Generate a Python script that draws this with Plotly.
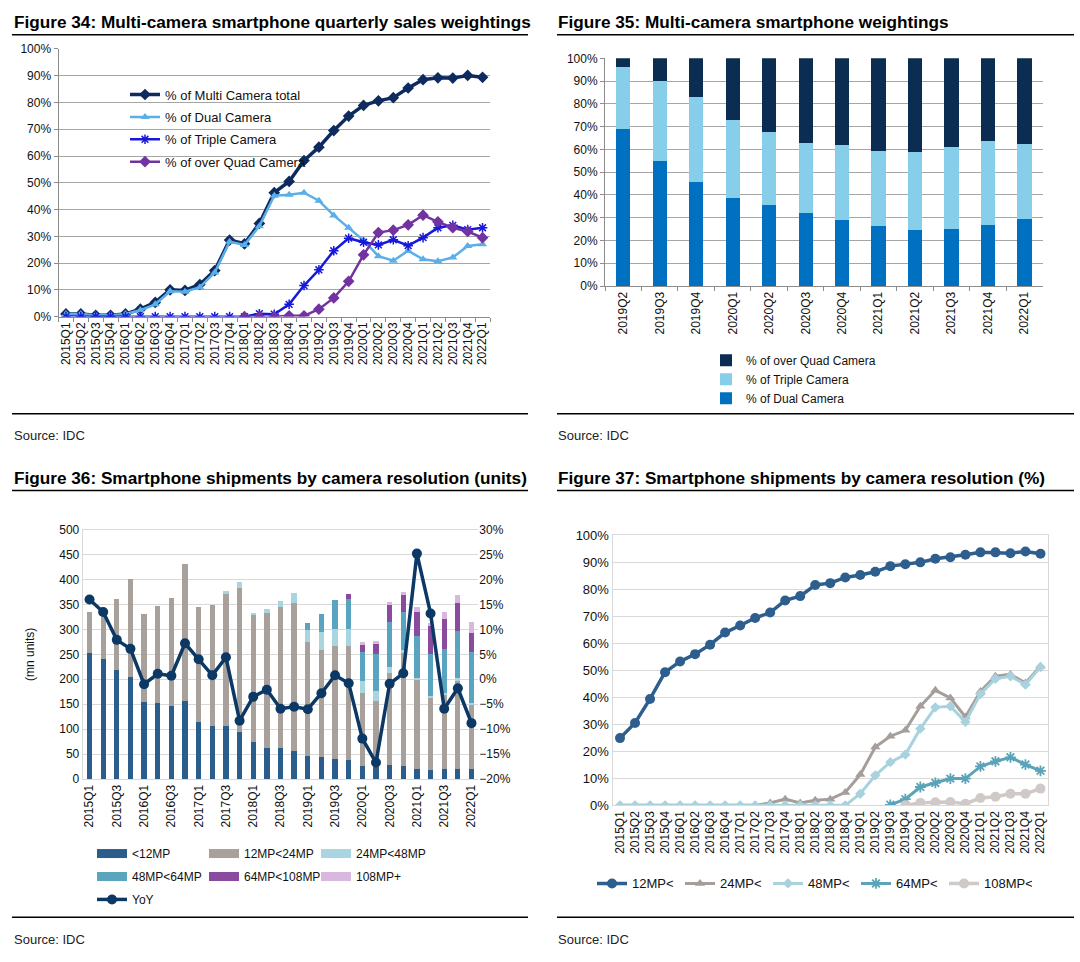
import plotly.graph_objects as go

# ---------------- data ----------------
quarters = ["2015Q1", "2015Q2", "2015Q3", "2015Q4", "2016Q1", "2016Q2", "2016Q3", "2016Q4",
            "2017Q1", "2017Q2", "2017Q3", "2017Q4", "2018Q1", "2018Q2", "2018Q3", "2018Q4",
            "2019Q1", "2019Q2", "2019Q3", "2019Q4", "2020Q1", "2020Q2", "2020Q3", "2020Q4",
            "2021Q1", "2021Q2", "2021Q3", "2021Q4", "2022Q1"]

# Figure 34 (%)
multi_total = [1, 1, 0.5, 0.5, 1, 2.8, 5.3, 10, 9.8, 12, 17.2, 28.6, 27.2, 34.8, 46.3, 50.5,
               58.3, 63.3, 69.5, 74.9, 78.9, 80.6, 81.8, 85.4, 88.5, 89.2, 89.1, 90.1, 89.4]
dual_cam = [1, 1, 0.5, 0.5, 1, 2.4, 4.6, 9.5, 9.3, 11, 16.5, 28, 26.8, 33.8, 45.2, 45.5,
            46.3, 43.3, 37.8, 33.2, 28.5, 22.6, 20.9, 24.6, 21.4, 20.7, 22.1, 26.4, 27]
triple_cam = [0, 0, 0, 0, 0, 0, 0, 0, 0, 0, 0, 0, 0, 1.1, 0.9, 4.6,
              11.6, 17.5, 24.6, 29.3, 27.8, 26.8, 28.7, 26.5, 29.5, 33.2, 34.1, 32.5, 33.2]
quad_cam = [None, None, None, None, None, None, None, None, None, None, None, None,
            0, 0, 0, 0.3, 0.3, 2.8, 7, 13.2, 23.1, 31.4, 32.3, 34.3, 37.9, 35.4, 33.2, 31.8, 29.5]

# Figure 35 (%)
q35 = ["2019Q2", "2019Q3", "2019Q4", "2020Q1", "2020Q2", "2020Q3", "2020Q4", "2021Q1",
       "2021Q2", "2021Q3", "2021Q4", "2022Q1"]
w_dual = [69, 55, 45.5, 38.5, 35.5, 32, 29, 26.5, 24.5, 25, 27, 29.5]
w_triple = [27, 35, 37.5, 34.5, 32, 31, 33, 33, 34.5, 36, 36.5, 33]
w_quad = [4, 10, 17, 27, 32.5, 37, 38, 40.5, 41, 39, 36.5, 37.5]

# Figure 36 (mn units, YoY %)
u_lt12 = [252, 240, 219, 204, 154, 152, 146, 156, 115, 106, 107, 95, 74, 62, 63, 57,
          46, 44, 41, 39, 27, 24, 28, 26, 21, 18, 21, 21, 20]
u_12_24 = [83, 90, 141, 198, 177, 194, 216, 275, 230, 243, 266, 289, 255, 270, 282, 296,
           229, 214, 225, 228, 146, 133, 185, 227, 179, 147, 148, 178, 131]
u_24_48 = [0, 0, 0, 0, 0, 0, 0, 0, 0, 0, 4, 11, 4, 9, 11, 20,
           23, 37, 35, 34, 24, 19, 12, 6, 3, 2, 4, 3, 2]
u_48_64 = [0, 0, 0, 0, 0, 0, 0, 0, 0, 0, 0, 0, 0, 0, 0, 0,
           15, 36, 57, 59, 57, 74, 89, 75, 83, 84, 87, 95, 101]
u_64_108 = [0, 0, 0, 0, 0, 0, 0, 0, 0, 0, 0, 0, 0, 0, 0, 0,
            0, 0, 0, 10, 17, 21, 35, 37, 48, 56, 60, 55, 39]
u_108 = [0, 0, 0, 0, 0, 0, 0, 0, 0, 0, 0, 0, 0, 0, 0, 0,
         0, 0, 0, 0, 3, 5, 6, 4, 10, 5, 14, 16, 21]
yoy = [16, 13.5, 7.9, 6.1, -1, 1.1, 0.7, 7.2, 4, 0.8, 4.4, -8.3, -3.5, -2.1, -5.9, -5.5,
       -6, -2.8, 0.8, -0.8, -11.9, -16.7, -0.9, 1.2, 25.2, 13.2, -5.9, -1.8, -8.8]
ticks36 = ["2015Q1", "2015Q3", "2016Q1", "2016Q3", "2017Q1", "2017Q3", "2018Q1", "2018Q3",
           "2019Q1", "2019Q3", "2020Q1", "2020Q3", "2021Q1", "2021Q3", "2022Q1"]

# Figure 37 (%)
p_12 = [24.9, 30.5, 39.4, 49.3, 53.3, 56, 59.5, 64, 66.6, 69.4, 71.4, 75.9, 77.5, 81.6, 82.3, 84.4,
        85.3, 86.5, 88.6, 89.3, 90, 91.3, 91.9, 92.8, 93.7, 93.7, 93.4, 94, 93.2]
p_24 = [0, 0, 0, 0, 0, 0, 0, 0, 0, 0, 0.9, 2.3, 0.9, 1.9, 2.3, 4.8,
        11.4, 21.6, 25.6, 27.8, 36.7, 42.6, 39.8, 32.7, 42.2, 47.8, 48.5, 45.3, 51.5]
p_48 = [0, 0, 0, 0, 0, 0, 0, 0, 0, 0, 0, 0, 0, 0, 0, 0,
        4.3, 11.1, 16, 18.8, 28.4, 36.3, 36.7, 30.9, 41.2, 46.9, 47.8, 44.7, 51.2]
p_64 = [None] * 18 + [0.2, 2.3, 6.8, 8.3, 9.9, 9.9, 14.4, 16.3, 17.8, 15.1, 12.8]
p_108 = [None] * 19 + [0, 0.9, 1.1, 1.2, 0.6, 2.7, 3.2, 4.3, 4.3, 6.2]

# ---------------- layout helpers ----------------
W, H = 1080, 962
FONT = "Liberation Sans, Arial, sans-serif"
# vertical calibration of the rendered page (observed offset / scale)
Y_OFF, Y_SCALE = 5.26, 0.987


def fx(p):
    return p / W


def fy(p):
    return 1 - ((p - Y_OFF) / Y_SCALE) / H


fig = go.Figure()

# ---- Figure 34 ----
f34 = [("% of Multi Camera total", multi_total, "#0D2B5E", "diamond", 9, 3.5),
       ("% of Dual Camera", dual_cam, "#5BAEE8", "triangle-up", 8, 2.5),
       ("% of Triple Camera", triple_cam, "#1818DC", "asterisk-open", 8, 2.5),
       ("% of over Quad Camera", quad_cam, "#7232A0", "diamond", 9, 2.5)]
for name, vals, col, sym, sz, lw in f34:
    fig.add_trace(go.Scatter(x=quarters, y=vals, name=name, mode="lines+markers",
                             line=dict(color=col, width=lw), legendgroup=name,
                             marker=dict(symbol=sym, size=sz, color=col,
                                         line=dict(color=col, width=1.5 if "asterisk" in sym else 0)),
                             xaxis="x", yaxis="y", legend="legend", connectgaps=False))

# ---- Figure 35 ----
for name, vals, col in [("% of Dual Camera", w_dual, "#0070C0"),
                        ("% of Triple Camera", w_triple, "#87CEEB"),
                        ("% of over Quad Camera", w_quad, "#0C2D52")]:
    fig.add_trace(go.Bar(x=q35, y=vals, name=name, marker=dict(color=col, line=dict(width=0)),
                         xaxis="x2", yaxis="y2", legend="legend2"))

# ---- Figure 36 ----
bars36 = [("<12MP", u_lt12, "#2A5D8B", "legend3"),
          ("12MP<24MP", u_12_24, "#A8A09B", "legend3"),
          ("24MP<48MP", u_24_48, "#A8D5DF", "legend3"),
          ("48MP<64MP", u_48_64, "#5AA4BF", "legend4"),
          ("64MP<108MP", u_64_108, "#8A4B9E", "legend4"),
          ("108MP+", u_108, "#D9B8E0", "legend4")]
for name, vals, col, lg in bars36:
    fig.add_trace(go.Bar(x=quarters, y=vals, name=name, marker=dict(color=col, line=dict(width=0)),
                         xaxis="x3", yaxis="y3", showlegend=False))
for name, vals, col, lg in bars36:
    fig.add_trace(go.Scatter(x=[None], y=[None], name=name, mode="lines",
                             line=dict(color=col, width=9), xaxis="x3", yaxis="y3", legend=lg))
fig.add_trace(go.Scatter(x=quarters, y=yoy, name="YoY", mode="lines+markers",
                         line=dict(color="#0B3865", width=3.5),
                         marker=dict(symbol="circle", size=10, color="#0B3865"),
                         xaxis="x3", yaxis="y4", legend="legend5"))

# ---- Figure 37 ----
f37 = [("12MP<", p_12, "#2D5E8E", "circle", 10, 3.5),
       ("24MP<", p_24, "#A59E9A", "triangle-up", 9, 3),
       ("48MP<", p_48, "#A8D2DD", "diamond", 8, 3),
       ("64MP<", p_64, "#5BA3B8", "asterisk-open", 9, 3),
       ("108MP<", p_108, "#CFCAC7", "circle", 10, 3.5)]
for name, vals, col, sym, sz, lw in f37:
    fig.add_trace(go.Scatter(x=quarters, y=vals, name=name, mode="lines+markers",
                             line=dict(color=col, width=lw),
                             marker=dict(symbol=sym, size=sz, color=col,
                                         line=dict(color=col, width=1.8 if "asterisk" in sym else 0)),
                             xaxis="x5", yaxis="y5", legend="legend6"))

tickfont = dict(family=FONT, size=12, color="#111")
grid_dark = "#A6A6A6"
grid_light = "#D9D9D9"

layout = dict(
    width=W, height=H, margin=dict(l=0, r=0, t=0, b=0),
    paper_bgcolor="white", plot_bgcolor="white",
    font=dict(family=FONT, size=12, color="#111"),
    barmode="stack", bargap=0.61,
    # Figure 34
    xaxis=dict(domain=[fx(58.5), fx(490)], anchor="y", type="category", tickangle=-90,
               tickfont=tickfont, showgrid=False, showline=True, linecolor="#8C8C8C",
               ticks="outside", ticklen=4, tickcolor="#8C8C8C", tickson="boundaries",
               range=[-0.5, 28.5]),
    yaxis=dict(domain=[fy(315.7), fy(47.3)], anchor="x", range=[0, 100], dtick=10,
               ticksuffix="%", tickfont=tickfont, showgrid=True, gridcolor=grid_dark,
               showline=True, linecolor="#8C8C8C", ticks="outside", ticklen=4,
               tickcolor="#8C8C8C", zeroline=False),
    # Figure 35
    xaxis2=dict(domain=[fx(605), fx(1042.7)], anchor="y2", type="category", tickangle=-90,
                tickfont=tickfont, showgrid=False, showline=True, linecolor="#8C8C8C",
                ticks="outside", ticklen=4, tickcolor="#8C8C8C", tickson="boundaries"),
    yaxis2=dict(domain=[fy(285), fy(56.7)], anchor="x2", range=[0, 100], dtick=10,
                ticksuffix="%", tickfont=tickfont, showgrid=True, gridcolor=grid_dark,
                showline=True, linecolor="#8C8C8C", ticks="outside", ticklen=4,
                tickcolor="#8C8C8C", zeroline=False),
    # Figure 36
    xaxis3=dict(domain=[fx(82.7), fx(478.3)], anchor="y3", type="category", tickangle=-90,
                tickfont=tickfont, showgrid=False, showline=True, linecolor=grid_light,
                mirror=True, tickvals=ticks36, ticktext=ticks36, range=[-0.5, 28.5]),
    yaxis3=dict(domain=[fy(779.3), fy(529.3)], anchor="x3", range=[0, 500], dtick=50,
                tickfont=tickfont, showgrid=True, gridcolor=grid_light, showline=True,
                linecolor=grid_light, zeroline=False,
                title=dict(text="(mn units)", font=dict(family=FONT, size=12, color="#111"),
                           standoff=22)),
    yaxis4=dict(overlaying="y3", side="right", anchor="x3", range=[-20, 30], dtick=5,
                ticksuffix="%", tickfont=tickfont, showgrid=False, zeroline=False,
                showline=False),
    # Figure 37
    xaxis5=dict(domain=[fx(612.5), fx(1048)], anchor="y5", type="category", tickangle=-90,
                tickfont=tickfont, showgrid=False, showline=True, linecolor=grid_light,
                mirror=True, range=[-0.5, 28.5]),
    yaxis5=dict(domain=[fy(805.7), fy(535)], anchor="x5", range=[0, 100], dtick=10,
                ticksuffix="%", tickfont=dict(family=FONT, size=13, color="#111"),
                showgrid=True, gridcolor=grid_light, showline=True, linecolor=grid_light,
                mirror=True, zeroline=False),
    legend=dict(x=fx(125), y=fy(78), xanchor="left", yanchor="top", bgcolor="rgba(0,0,0,0)",
                font=dict(family=FONT, size=13, color="#111"), itemwidth=30,
                tracegroupgap=2.5, traceorder="grouped"),
    legend2=dict(x=fx(706), y=fy(345), xanchor="left", yanchor="top", bgcolor="rgba(0,0,0,0)",
                 font=dict(family=FONT, size=12, color="#111"), traceorder="reversed"),
    legend3=dict(x=fx(92), y=fy(839.5), xanchor="left", yanchor="top", orientation="h",
                 bgcolor="rgba(0,0,0,0)", font=dict(family=FONT, size=12, color="#111"),
                 entrywidth=67, entrywidthmode="pixels", traceorder="normal"),
    legend4=dict(x=fx(92), y=fy(862.5), xanchor="left", yanchor="top", orientation="h",
                 bgcolor="rgba(0,0,0,0)", font=dict(family=FONT, size=12, color="#111"),
                 entrywidth=67, entrywidthmode="pixels", traceorder="normal"),
    legend5=dict(x=fx(92), y=fy(885.5), xanchor="left", yanchor="top", orientation="h",
                 bgcolor="rgba(0,0,0,0)", font=dict(family=FONT, size=12, color="#111")),
    legend6=dict(x=fx(592), y=fy(869), xanchor="left", yanchor="top", orientation="h",
                 bgcolor="rgba(0,0,0,0)", font=dict(family=FONT, size=13, color="#111"),
                 entrywidth=43, entrywidthmode="pixels", traceorder="normal"),
)
fig.update_layout(**layout)

# titles, rules, sources
titles = [(12, 20, "Figure 34: Multi-camera smartphone quarterly sales weightings"),
          (556, 20, "Figure 35: Multi-camera smartphone weightings"),
          (12, 478, "Figure 36: Smartphone shipments by camera resolution (units)"),
          (556, 478, "Figure 37: Smartphone shipments by camera resolution (%)")]
for x, y, t in titles:
    fig.add_annotation(x=fx(x), y=fy(y), xref="paper", yref="paper", xanchor="left",
                       yanchor="middle", showarrow=False, text="<b>" + t + "</b>",
                       font=dict(family=FONT, size=17.2, color="#000"))
for x, y in [(12, 435), (556, 435), (12, 940), (556, 940)]:
    fig.add_annotation(x=fx(x), y=fy(y), xref="paper", yref="paper", xanchor="left",
                       yanchor="middle", showarrow=False, text="Source: IDC",
                       font=dict(family=FONT, size=13, color="#222"))
for y in [33, 413, 490, 918]:
    for x0, x1 in [(12, 528), (557, 1074)]:
        fig.add_shape(type="line", xref="paper", yref="paper", x0=fx(x0), x1=fx(x1),
                      y0=fy(y), y1=fy(y), line=dict(color="#000", width=1.5))

fig.write_html("out.html", config={"displayModeBar": False},
               post_script="document.body.style.margin='0';")
